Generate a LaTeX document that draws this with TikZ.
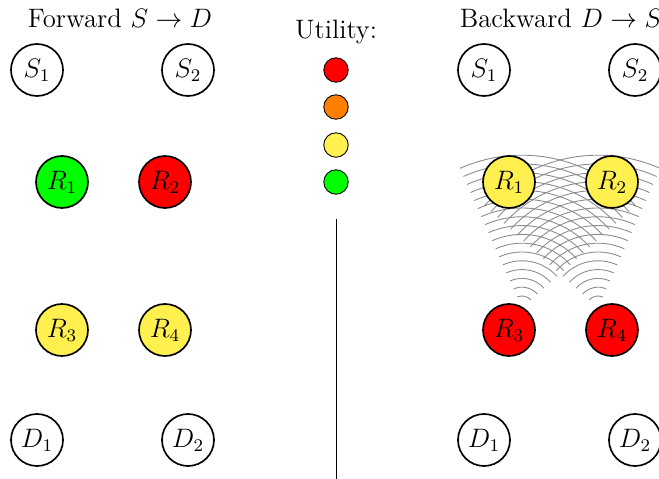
\documentclass[tikz,border=0pt]{standalone}
\definecolor{uyellow}{RGB}{255,240,80}
\definecolor{uorange}{RGB}{255,128,0}
\definecolor{ugreen}{RGB}{0,255,0}
\definecolor{ured}{RGB}{255,0,0}
\begin{document}
\begin{tikzpicture}[x=0.45pt,y=0.45pt,font=\fontsize{12}{14}\selectfont,
  nd/.style={circle,draw,line width=0.75pt,minimum size=23.4pt,inner sep=0pt},
  leg/.style={circle,draw,line width=0.4pt,minimum size=11pt,inner sep=0pt},
  wave/.style={draw=black!45,line width=0.4pt}]
\useasboundingbox (0,0) rectangle (659,479);
% wave centres
\coordinate (C3) at (522,171);
\coordinate (C4) at (598,171);
\foreach \k in {0,...,16}{
  \pgfmathsetmacro\r{12+8.8*\k}
  \draw[wave] (C3) ++(42:\r) arc[start angle=42,end angle=114,radius=\r];
  \draw[wave] (C4) ++(66:\r) arc[start angle=66,end angle=138,radius=\r];
}
% titles
\node (tf) at (120,461) {Forward $S\rightarrow D$};
\node (tu) at (336,447) {Utility:};
\node[anchor=west] (tb) at (452,461) {Backward $D\rightarrow S$};
% forward
\node[nd] (fS1) at (37,409) {$S_1$};
\node[nd] (fS2) at (188,409) {$S_2$};
\node[nd,fill=ugreen] (fR1) at (62,297) {$R_1$};
\node[nd,fill=ured] (fR2) at (165,297) {$R_2$};
\node[nd,fill=uyellow] (fR3) at (62,149) {$R_3$};
\node[nd,fill=uyellow] (fR4) at (165,149) {$R_4$};
\node[nd] (fD1) at (37,39) {$D_1$};
\node[nd] (fD2) at (188,39) {$D_2$};
% backward
\node[nd] (bS1) at (484,409) {$S_1$};
\node[nd] (bS2) at (635,409) {$S_2$};
\node[nd,fill=uyellow] (bR1) at (509,297) {$R_1$};
\node[nd,fill=uyellow] (bR2) at (612,297) {$R_2$};
\node[nd,fill=ured] (bR3) at (509,149) {$R_3$};
\node[nd,fill=ured] (bR4) at (612,149) {$R_4$};
\node[nd] (bD1) at (484,39) {$D_1$};
\node[nd] (bD2) at (635,39) {$D_2$};
% legend
\node[leg,fill=ured] (l1) at (336,409) {};
\node[leg,fill=uorange] (l2) at (336,372) {};
\node[leg,fill=uyellow] (l3) at (336,334) {};
\node[leg,fill=ugreen] (l4) at (336,297) {};
\coordinate (lt) at (336,260);
\coordinate (lb) at (336,0);
\draw[line width=0.4pt] (lt) -- (lb);
\end{tikzpicture}
\end{document}
